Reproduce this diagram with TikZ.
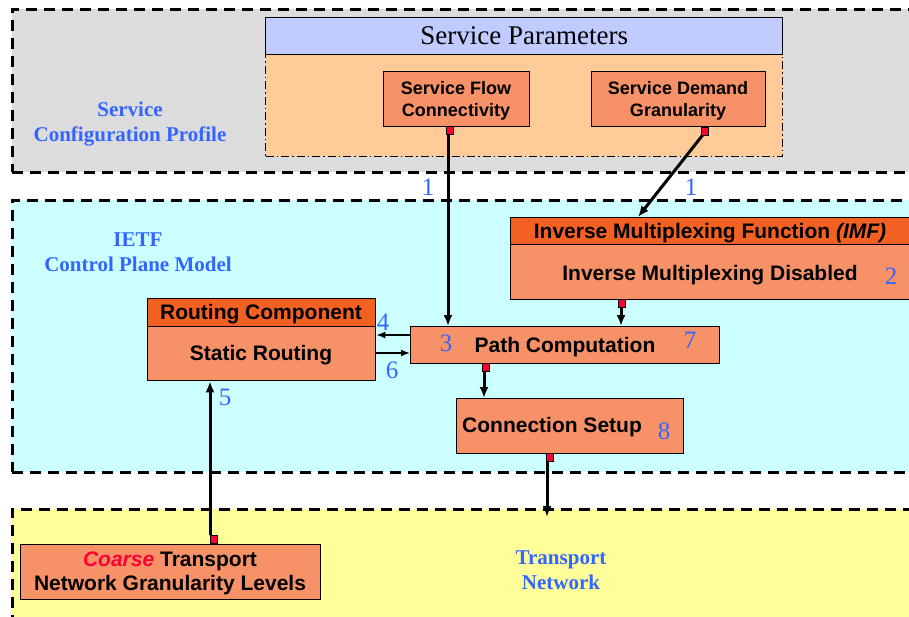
\documentclass[tikz,border=0pt]{standalone}
\usepackage{fontspec}
\setmainfont{Liberation Serif}
\setsansfont{Liberation Sans}
\usetikzlibrary{arrows.meta,calc}
\definecolor{regiongray}{HTML}{DCDCDC}
\definecolor{regioncyan}{HTML}{CCFFFF}
\definecolor{regionyellow}{HTML}{FFFF99}
\definecolor{peach}{HTML}{FFCC99}
\definecolor{lavender}{HTML}{C0CBFF}
\definecolor{salmon}{HTML}{F79168}
\definecolor{hdrorange}{HTML}{F26122}
\definecolor{lblblue}{HTML}{3366FF}
\definecolor{portred}{HTML}{FF0033}
\newcommand\boxfont{\sffamily\bfseries\fontsize{21}{24}\selectfont}
\newcommand\smallboxfont{\sffamily\bfseries\fontsize{18}{22}\selectfont}
\newcommand\regionfont{\rmfamily\bfseries\fontsize{21}{25}\selectfont}
\newcommand\numfont{\rmfamily\fontsize{25}{28}\selectfont}
\tikzset{
  region/.style={draw, line width=2.8pt, dash pattern=on 11pt off 7pt, anchor=north west, inner sep=0pt},
  blockbox/.style={draw, line width=1.3pt, fill=salmon, anchor=north west, inner sep=0pt, text=black},
  hdrbox/.style={blockbox, fill=hdrorange},
  port/.style={draw, line width=0.8pt, fill=portred, minimum width=7pt, minimum height=8pt, inner sep=0pt},
  conn/.style={line width=3pt, -{Latex[length=11pt,width=9pt]}},
  thinconn/.style={line width=1.6pt, -{Latex[length=9pt,width=7pt]}},
  regionlabel/.style={text=lblblue, font=\regionfont, align=center},
  numlabel/.style={text=lblblue, font=\numfont, inner sep=0pt}
}
\begin{document}
\begin{tikzpicture}[x=1pt,y=-1pt]
\useasboundingbox (0,0) rectangle (909,616);
\clip (0,0) rectangle (909,616);
\fill[white] (0,0) rectangle (909,616);

% regions
\node[region, fill=regiongray, minimum width=930pt, minimum height=163pt] (cfg) at (11,8) {};
\node[region, fill=regioncyan, minimum width=930pt, minimum height=272pt] (cpm) at (11,199) {};
\node[region, fill=regionyellow, minimum width=930pt, minimum height=140pt] (tn) at (11,508) {};

\node[regionlabel] (cfglbl) at (130,124) {Service\\Configuration Profile};
\node[regionlabel] (cpmlbl) at (138,252) {IETF\\Control Plane Model};
\node[regionlabel] (tnlbl) at (561,570) {Transport\\Network};

% service parameters
\node[draw, line width=1.3pt, fill=lavender, anchor=north west, minimum width=517pt, minimum height=37pt, inner sep=0pt,
      font=\rmfamily\fontsize{27}{30}\selectfont] (sp) at (265,17) {Service Parameters};
\node[draw, line width=1.2pt, dash pattern=on 8pt off 3pt on 1.5pt off 3pt, fill=peach, anchor=north west,
      minimum width=517pt, minimum height=102pt, inner sep=0pt] (spbody) at (265,54) {};

\node[blockbox, minimum width=146pt, minimum height=55pt] (sfc) at (383,71) {};
\node[font=\smallboxfont, align=center] (sfctxt) at (456,101) {Service Flow\\Connectivity};
\node[blockbox, minimum width=174pt, minimum height=55pt] (sdg) at (591,71) {};
\node[font=\smallboxfont, align=center] (sdgtxt) at (678,101) {Service Demand\\Granularity};

% IMF
\node[hdrbox, minimum width=415pt, minimum height=27pt] (imfh) at (510,217) {};
\node[blockbox, minimum width=415pt, minimum height=55pt] (imf) at (510,244) {};
\node[font=\boxfont] (imfhtxt) at (710,233) {Inverse Multiplexing Function \textit{(IMF)}};
\node[font=\boxfont] (imftxt) at (710,275) {Inverse Multiplexing Disabled};

% Routing component
\node[hdrbox, minimum width=228pt, minimum height=28pt] (rch) at (147,298) {};
\node[font=\boxfont] (rchtxt) at (261,314) {Routing Component};
\node[blockbox, minimum width=228pt, minimum height=54pt] (rc) at (147,326) {};
\node[font=\boxfont] (rctxt) at (261,355) {Static Routing};

% Path computation
\node[blockbox, minimum width=309pt, minimum height=37pt] (pc) at (410,326) {};
\node[font=\boxfont] (pctxt) at (565,347) {Path Computation};

% Connection setup
\node[blockbox, minimum width=227pt, minimum height=55pt] (cs) at (456,398) {};
\node[font=\boxfont] (cstxt) at (552,427) {Connection Setup};

% Coarse
\node[blockbox, minimum width=300pt, minimum height=55pt] (coarse) at (20,544) {};
\node[font=\boxfont, align=center] (coarsetxt) at (170,573)
  {\textcolor{portred}{\itshape Coarse} Transport\\Network Granularity Levels};

% transport network target
\coordinate (tnin) at (547,517);

% ports
\node[port, anchor=north] (p1) at (450,126) {};
\node[port, anchor=north] (p2) at (704.5,126.5) {};
\node[port, anchor=north] (p3) at (622,299) {};
\node[port, anchor=north] (p4) at (486,363) {};
\node[port, anchor=north] (p5) at (550,453) {};
\node[port, anchor=south] (p6) at (214,544) {};

% connectors
\draw[conn] ([xshift=-2pt]p1.south) -- ([xshift=-2pt]p1.south |- pc.north);
\draw[conn] ([xshift=-2pt]p2.south) -- (638,217);
\draw[conn] ([xshift=-1pt]p3.south) -- ([xshift=-1pt]p3.south |- pc.north);
\draw[conn] ([xshift=-2pt]p4.south) -- ([xshift=-2pt]p4.south |- cs.north);
\draw[conn] ([xshift=-3pt]p5.south) -- ([xshift=-3pt]p5.south |- tnin);
\draw[conn] ([xshift=-4pt]p6.north) -- ([xshift=-4pt]p6.north |- rc.south);
\draw[thinconn] (pc.west |- 0,335) -- (rc.east |- 0,335);
\draw[thinconn] (rc.east |- 0,353) -- (pc.west |- 0,353);

% numbers
\node[numlabel] (n1a) at (428,187) {1};
\node[numlabel] (n1b) at (691,187) {1};
\node[numlabel] (n2) at (891,276) {2};
\node[numlabel] (n3) at (446,343) {3};
\node[numlabel] (n4) at (383,322) {4};
\node[numlabel] (n5) at (225,397) {5};
\node[numlabel] (n6) at (392,370) {6};
\node[numlabel] (n7) at (690,340) {7};
\node[numlabel] (n8) at (664,431) {8};
\end{tikzpicture}
\end{document}
